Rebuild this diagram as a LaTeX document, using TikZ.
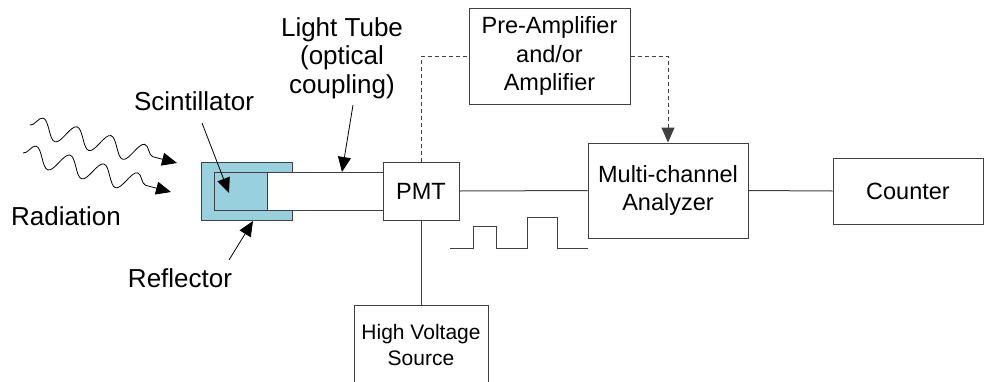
\documentclass[tikz,border=0pt]{standalone}
\usepackage{fontspec}
\setmainfont{Liberation Sans}
\usetikzlibrary{arrows.meta,decorations.pathmorphing}
\definecolor{reflBlue}{RGB}{153,208,221}
\definecolor{lineGray}{RGB}{64,64,64}

\begin{document}
\begin{tikzpicture}
[x=1pt,y=-1pt,
box/.style={draw=lineGray,line width=1pt,fill=white,inner sep=0pt,align=center,font=\fontsize{23.5}{28.3}\selectfont},
smallBox/.style={box,font=\fontsize{21}{26}\selectfont},
partLabel/.style={inner sep=0pt,align=center,font=\fontsize{26}{28.3}\selectfont},
wire/.style={draw=lineGray,line width=1pt},
signal/.style={wire,dashed,dash pattern=on 4pt off 3pt},
arrowEnd/.style={-{Triangle[length=15pt,width=13pt]}},
pointer/.style={black,line width=0.8pt,arrowEnd},
wave/.style={black,line width=0.8pt,decorate,decoration={snake,amplitude=10pt,segment length=35pt,post length=14pt},arrowEnd}]
\useasboundingbox (0,0) rectangle (990,381);
% detector head
\node[box,fill=reflBlue,minimum width=91,minimum height=58] (reflector) at (246.5,191) {};
\node[box,fill=reflBlue,minimum width=53,minimum height=38] (scint) at (240.5,191) {};
\node[box,minimum width=116,minimum height=38] (tube) at (325,191) {};
\node[box,minimum width=76,minimum height=58] (pmt) at (421,191) {PMT};
% electronics
\node[box,minimum width=161,minimum height=96] (preamp) at (549.5,56) {Pre-Amplifier\\and/or\\Amplifier};
\node[box,minimum width=160,minimum height=95] (mca) at (668,190.5) {Multi-channel\\Analyzer};
\node[box,minimum width=150,minimum height=66] (counter) at (908,191) {Counter};
\node[smallBox,anchor=north,minimum width=134,minimum height=78] (hv) at (421,305) {High Voltage\\Source};
% labels
\node[partLabel,anchor=base] (radLabel) at (66,225) {Radiation};
\node[partLabel,anchor=base] (scintLabel) at (194,110) {Scintillator};
\node[partLabel,anchor=base] (reflLabel) at (180,287) {Reflector};
\node[partLabel] (tubeLabel) at (342,58) {Light Tube\\(optical\\coupling)};
% pointer ends
\coordinate (scintFrom) at (202,123);
\coordinate (scintTo) at (229,193);
\coordinate (reflFrom) at (229,260);
\coordinate (reflTo) at (253,221);
\coordinate (tubeFrom) at (353,105);
\coordinate (tubeTo) at (342,172);
\coordinate (rayA) at (30,125);
\coordinate (rayAEnd) at (177,163);
\coordinate (rayB) at (23,153);
\coordinate (rayBEnd) at (171,192);
% connectors
\draw[wire] (pmt.east) -- (mca.west);
\draw[wire] (mca.east) -- (counter.west);
\draw[wire] (pmt.south) -- (hv.north);
\draw[signal] (pmt.north) |- (preamp.west);
\draw[signal,arrowEnd] (preamp.east) -| (mca.north);
\draw[pointer] (scintFrom) -- (scintTo);
\draw[pointer] (reflFrom) -- (reflTo);
\draw[pointer] (tubeFrom) -- (tubeTo);
\draw[wave] (rayA) -- (rayAEnd);
\draw[wave] (rayB) -- (rayBEnd);
% pulses
\draw[wire] (450,248) -- (473,248) -- (473,226) -- (496,226) -- (496,248) -- (527,248)
  -- (527,217) -- (557,217) -- (557,248) -- (588,248);
\end{tikzpicture}
\end{document}
